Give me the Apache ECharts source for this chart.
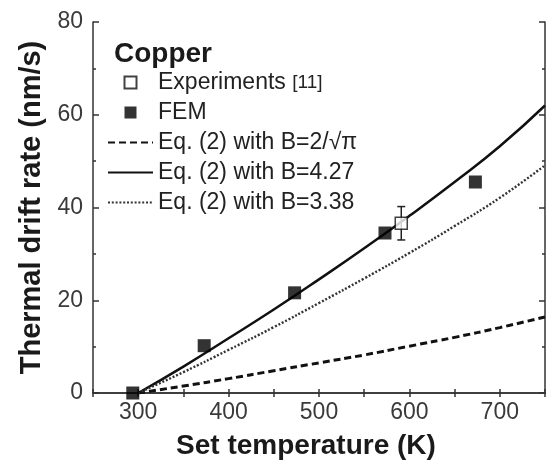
<!DOCTYPE html>
<html>
<head>
<meta charset="utf-8">
<script src="https://cdn.jsdelivr.net/npm/echarts@6/dist/echarts.min.js"></script>
<style>
  html, body { margin: 0; padding: 0; background: #fff; }
  #chart { width: 548px; height: 473px; }
</style>
</head>
<body>
<div id="chart"></div>
<script>
// Thermal drift rate of copper vs. set temperature
const femTemp = [294, 373, 473, 573, 673];
const femRate = [0, 10.2, 21.6, 34.5, 45.5];

const expTemp = [591];
const expRate = [36.6];
const expErr = [3.6];

const curveTemp = [300, 350, 400, 450, 500, 550, 600, 650, 700, 750];
const rateB113 = [0, 1.5, 3.1, 4.8, 6.5, 8.2, 10.1, 12.0, 14.1, 16.4];
const rateB427 = [0, 5.7, 11.8, 18.0, 24.5, 31.2, 38.2, 45.5, 53.2, 62.0];
const rateB338 = [0, 4.5, 9.3, 14.2, 19.4, 24.7, 30.2, 36.0, 42.1, 49.1];

const xTickLabels = [300, 400, 500, 600, 700];
const yTickLabels = [0, 20, 40, 60, 80];

const nameExp = 'Experiments [11]';
const nameFem = 'FEM';
const nameB113 = 'Eq. (2) with B=2/\u221A\u03C0';
const nameB427 = 'Eq. (2) with B=4.27';
const nameB338 = 'Eq. (2) with B=3.38';

const zip = (xs, ys) => xs.map((x, i) => [x, ys[i]]);
const FONT = '"Liberation Sans", Arial, sans-serif';
const squareIcon = 'path://M0,0H10V10H0Z';

const axisLineStyle = { color: '#333', width: 1.5 };
// line series have no point symbols; keep the legend sample to the bare line
const hiddenSymbol = { color: '#111', opacity: 0 };

const chart = echarts.init(document.getElementById('chart'));
chart.setOption({
  animation: false,
  backgroundColor: '#fff',
  textStyle: { fontFamily: FONT },
  title: {
    text: 'Copper',
    left: 109, top: 35,
    textStyle: { fontFamily: FONT, fontSize: 28, fontWeight: 'bold', color: '#1a1a1a' }
  },
  legend: {
    orient: 'vertical',
    left: 107, top: 71,
    padding: 0,
    itemWidth: 45, itemHeight: 12, itemGap: 7,
    selectedMode: false,
    textStyle: {
      fontFamily: FONT, fontSize: 23, color: '#222', lineHeight: 23,
      rich: { small: { fontFamily: FONT, fontSize: 19, color: '#222' } }
    },
    formatter: function (name) {
      const m = name.match(/^(.*) (\[\d+\])$/);
      return m ? m[1] + ' {small|' + m[2] + '}' : name;
    },
    data: [
      { name: nameExp, icon: squareIcon },
      { name: nameFem, icon: squareIcon },
      { name: nameB113, itemStyle: hiddenSymbol },
      { name: nameB427, itemStyle: hiddenSymbol },
      { name: nameB338, itemStyle: hiddenSymbol }
    ]
  },
  grid: { left: 93, right: 1, top: 22, bottom: 80 },
  xAxis: [
    {
      type: 'value', position: 'bottom',
      min: 250, max: 750, interval: 50,
      name: 'Set temperature (K)',
      nameLocation: 'middle', nameGap: 39,
      nameTextStyle: { fontFamily: FONT, fontSize: 28, fontWeight: 'bold', color: '#1a1a1a', padding: [0, 26, 0, 0] },
      axisLine: { show: true, lineStyle: axisLineStyle },
      axisTick: { show: true, inside: true, length: 4, lineStyle: axisLineStyle },
      axisLabel: {
        margin: 8, fontFamily: FONT, fontSize: 23, color: '#3a3a3a',
        formatter: v => xTickLabels.includes(v) ? String(v) : ''
      },
      splitLine: { show: false }
    },
    {
      type: 'value', position: 'top',
      min: 250, max: 750, interval: 50,
      axisLine: { show: true, lineStyle: axisLineStyle },
      axisTick: { show: true, inside: true, length: 4, lineStyle: axisLineStyle },
      axisLabel: { show: false },
      splitLine: { show: false }
    }
  ],
  yAxis: [
    {
      type: 'value', position: 'left',
      min: 0, max: 80, interval: 20,
      name: 'Thermal drift rate (nm/s)',
      nameLocation: 'middle', nameGap: 45,
      nameTextStyle: { fontFamily: FONT, fontSize: 29, fontWeight: 'bold', color: '#1a1a1a' },
      axisLine: { show: true, lineStyle: axisLineStyle },
      axisTick: { show: true, inside: true, length: 6, lineStyle: axisLineStyle },
      minorTick: { show: true, splitNumber: 2, length: 3, lineStyle: axisLineStyle },
      axisLabel: {
        margin: 10, fontFamily: FONT, fontSize: 23, color: '#3a3a3a',
        formatter: v => yTickLabels.includes(v) ? String(v) : ''
      },
      splitLine: { show: false }
    },
    {
      type: 'value', position: 'right',
      min: 0, max: 80, interval: 20,
      axisLine: { show: true, lineStyle: axisLineStyle },
      axisTick: { show: true, inside: true, length: 6, lineStyle: axisLineStyle },
      minorTick: { show: true, splitNumber: 2, length: 3, lineStyle: axisLineStyle },
      axisLabel: { show: false },
      splitLine: { show: false }
    }
  ],
  series: [
    {
      name: nameB113, type: 'line', smooth: true, symbol: 'none',
      data: zip(curveTemp, rateB113),
      itemStyle: hiddenSymbol,
      lineStyle: { color: '#111', width: 3, type: [7, 4] },
      z: 2
    },
    {
      name: nameB427, type: 'line', smooth: true, symbol: 'none',
      data: zip(curveTemp, rateB427),
      itemStyle: hiddenSymbol,
      lineStyle: { color: '#111', width: 2.5, type: 'solid' },
      z: 2
    },
    {
      name: nameB338, type: 'line', smooth: true, symbol: 'none',
      data: zip(curveTemp, rateB338),
      itemStyle: hiddenSymbol,
      lineStyle: { color: '#333', width: 2.4, type: [2, 1.8] },
      z: 2
    },
    {
      name: nameFem, type: 'scatter', symbol: 'rect', symbolSize: 13,
      data: zip(femTemp, femRate),
      itemStyle: { color: '#000' },
      z: 3
    },
    {
      name: 'error', type: 'custom',
      data: expTemp.map((t, i) => [t, expRate[i] - expErr[i], expRate[i] + expErr[i]]),
      renderItem: function (params, api) {
        const lo = api.coord([api.value(0), api.value(1)]);
        const hi = api.coord([api.value(0), api.value(2)]);
        const cap = 4;
        const style = { stroke: '#222', lineWidth: 1.5 };
        return {
          type: 'group',
          children: [
            { type: 'line', shape: { x1: lo[0], y1: lo[1], x2: hi[0], y2: hi[1] }, style },
            { type: 'line', shape: { x1: lo[0] - cap, y1: lo[1], x2: lo[0] + cap, y2: lo[1] }, style },
            { type: 'line', shape: { x1: hi[0] - cap, y1: hi[1], x2: hi[0] + cap, y2: hi[1] }, style }
          ]
        };
      },
      z: 3
    },
    {
      name: nameExp, type: 'scatter', symbol: 'rect', symbolSize: 12,
      data: zip(expTemp, expRate),
      itemStyle: { color: '#fff', borderColor: '#111', borderWidth: 1.5 },
      z: 4
    }
  ]
});
</script>
</body>
</html>
